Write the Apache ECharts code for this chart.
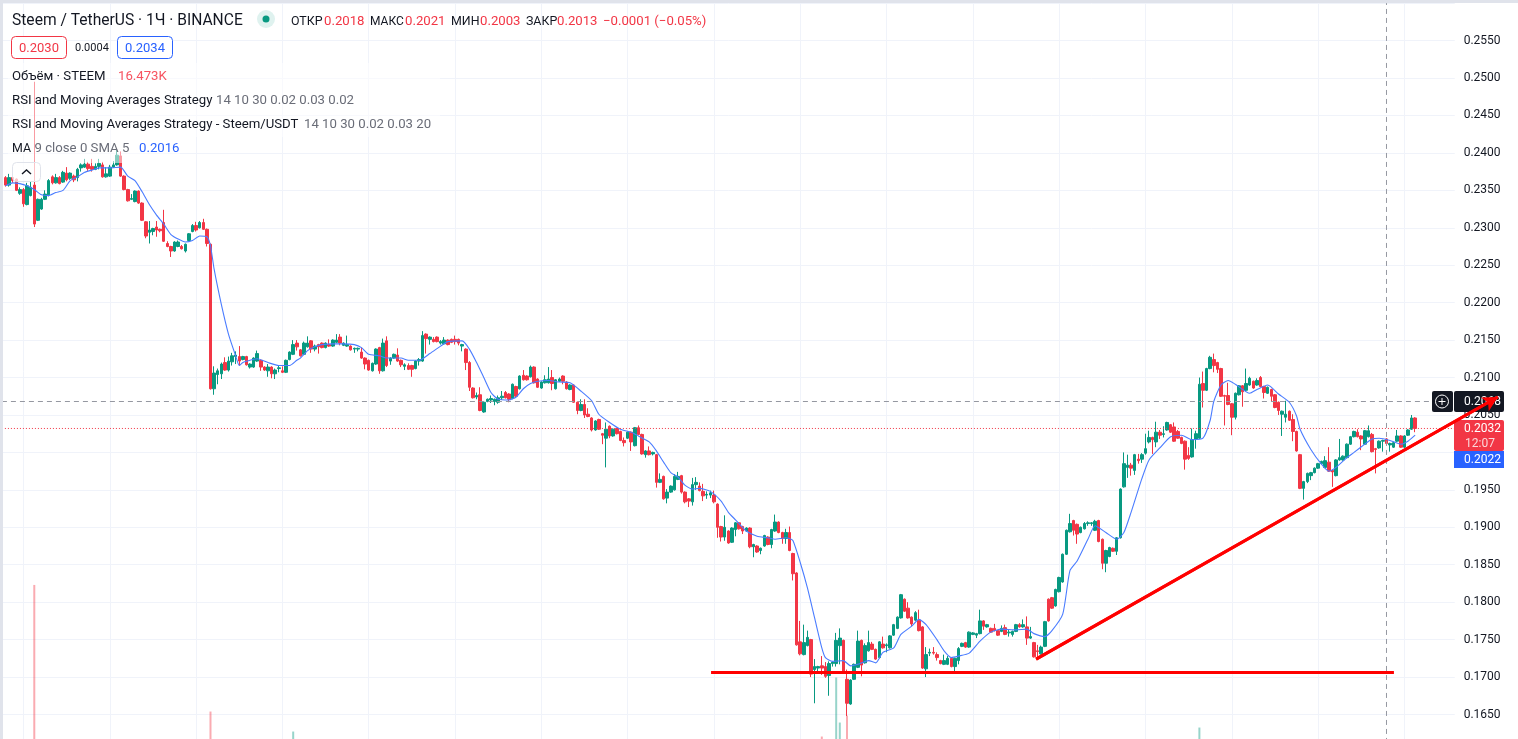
<!DOCTYPE html>
<html>
<head>
<meta charset="utf-8">
<title>Steem / TetherUS 1H</title>
<style>html,body{margin:0;padding:0;background:#fff;overflow:hidden}#chart{width:1518px;height:739px}</style>
<script src="https://cdn.jsdelivr.net/npm/echarts@6/dist/echarts.min.js"></script>
</head>
<body>
<div id="chart"></div>
<script>
// Hourly STEEM/USDT candles; prices are kept in 1/10000 USDT.
const opens = [
2367,2357,2367,2365,2346,2351,2331,2343,2357,2310,
2325,2338,2344,2368,2360,2367,2361,2373,2366,2369,
2367,2380,2381,2385,2382,2378,2382,2384,2368,2369,
2381,2384,2396,2369,2351,2338,2335,2349,2333,2308,
2294,2295,2301,2298,2307,2279,2275,2269,2275,2275,
2269,2283,2295,2303,2300,2307,2298,2278,2085,2104,
2105,2120,2110,2121,2128,2128,2124,2128,2114,2114,
2122,2123,2114,2109,2114,2105,2112,2109,2107,2124,
2131,2146,2137,2131,2141,2149,2138,2144,2146,2140,
2144,2142,2147,2154,2143,2142,2142,2138,2138,2134,
2126,2123,2109,2118,2140,2109,2149,2122,2126,2130,
2123,2115,2116,2116,2112,2122,2122,2158,2151,2151,
2154,2146,2145,2150,2151,2151,2151,2142,2138,2120,
2086,2074,2077,2054,2068,2070,2068,2067,2073,2080,
2078,2072,2088,2085,2103,2102,2101,2114,2098,2086,
2093,2093,2100,2085,2095,2102,2094,2084,2090,2067,
2056,2064,2051,2046,2030,2044,2025,2019,2035,2022,
2032,2028,2016,2019,2027,2009,2033,2024,1997,2002,
1998,1997,1960,1968,1939,1947,1950,1964,1969,1947,
1938,1934,1957,1955,1948,1943,1943,1943,1931,1901,
1887,1895,1880,1897,1906,1901,1895,1899,1874,1875,
1869,1875,1887,1877,1895,1907,1893,1885,1893,1865,
1839,1747,1730,1742,1750,1710,1712,1715,1714,1702,
1718,1718,1742,1749,1697,1664,1697,1713,1749,1719,
1735,1744,1737,1726,1744,1742,1739,1756,1765,1779,
1804,1792,1780,1776,1776,1767,1711,1732,1733,1730,
1722,1717,1717,1725,1714,1722,1741,1746,1740,1757,
1756,1758,1775,1767,1765,1765,1762,1761,1766,1759,
1757,1761,1770,1767,1767,1752,1746,1735,1731,1741,
1804,1806,1795,1814,1827,1864,1894,1909,1904,1893,
1898,1905,1905,1896,1909,1884,1852,1861,1872,1868,
1886,1954,1980,1983,1976,1991,1991,1999,2014,2020,
2014,2027,2024,2030,2037,2034,2028,2020,2015,1996,
1994,2018,2019,2092,2083,2112,2124,2120,2112,2076,
2076,2065,2047,2077,2089,2083,2090,2095,2090,2100,
2088,2079,2084,2077,2067,2051,2047,2055,2044,2028,
1997,1952,1961,1969,1973,1979,1985,1980,1987,1976,
1969,1990,1990,1993,2011,2021,2027,2022,2011,2021,
2024,2005,2006,2015,2018,2010,2007,2015,2022,2007,
2023,2031,2046];
const highs = [
2369,2372,2370,2366,2354,2353,2360,2362,2495,2339,
2340,2350,2365,2370,2372,2369,2376,2381,2374,2371,
2380,2386,2392,2388,2392,2386,2392,2388,2381,2384,
2389,2405,2402,2370,2352,2345,2350,2350,2334,2309,
2309,2300,2309,2299,2324,2282,2276,2282,2283,2277,
2279,2293,2305,2308,2309,2312,2299,2279,2115,2112,
2120,2127,2128,2133,2135,2142,2129,2129,2119,2127,
2136,2124,2115,2118,2115,2112,2116,2115,2124,2135,
2150,2150,2138,2148,2155,2150,2144,2145,2147,2147,
2151,2151,2158,2158,2147,2156,2143,2140,2140,2140,
2127,2124,2120,2139,2141,2152,2155,2127,2132,2139,
2124,2119,2119,2117,2123,2126,2162,2159,2155,2154,
2155,2150,2154,2151,2152,2156,2152,2145,2139,2122,
2087,2080,2087,2068,2072,2076,2072,2076,2082,2082,
2079,2092,2089,2103,2110,2103,2116,2115,2099,2095,
2103,2114,2110,2098,2100,2103,2095,2091,2091,2068,
2071,2071,2059,2047,2043,2045,2026,2040,2036,2032,
2033,2029,2020,2028,2028,2034,2036,2025,2003,2008,
2001,1998,1972,1969,1951,1956,1971,1974,1970,1948,
1939,1966,1967,1960,1958,1948,1949,1949,1932,1902,
1916,1896,1900,1907,1907,1902,1900,1900,1878,1876,
1873,1890,1888,1898,1917,1908,1894,1898,1901,1866,
1840,1775,1770,1762,1751,1724,1715,1728,1720,1721,
1721,1759,1765,1750,1710,1697,1718,1762,1750,1745,
1762,1747,1738,1748,1754,1745,1756,1771,1781,1811,
1805,1800,1781,1788,1790,1768,1740,1738,1740,1733,
1723,1730,1728,1726,1726,1740,1746,1747,1761,1760,
1759,1790,1776,1771,1766,1771,1763,1769,1770,1763,
1762,1771,1772,1777,1781,1767,1747,1743,1742,1775,
1805,1807,1818,1834,1865,1897,1918,1910,1905,1901,
1907,1908,1907,1910,1910,1885,1870,1874,1873,1887,
1952,2000,1997,1986,1998,1998,1999,2025,2029,2021,
2041,2030,2035,2041,2038,2040,2030,2021,2016,2007,
2032,2029,2100,2108,2113,2129,2132,2121,2113,2077,
2093,2066,2080,2090,2090,2112,2101,2096,2099,2102,
2089,2088,2085,2078,2068,2056,2069,2056,2051,2029,
1998,1962,1973,1974,1980,1986,1989,1995,2007,1977,
1991,2018,1996,2012,2022,2029,2031,2023,2030,2036,
2026,2006,2016,2017,2019,2013,2014,2030,2023,2023,
2031,2050,2047];
const lows = [
2355,2355,2360,2349,2344,2328,2330,2342,2301,2309,
2324,2337,2342,2358,2359,2358,2360,2362,2364,2361,
2362,2375,2380,2376,2375,2377,2378,2367,2367,2368,
2380,2383,2368,2350,2335,2337,2334,2332,2309,2286,
2279,2290,2288,2294,2281,2274,2261,2268,2274,2271,
2267,2282,2294,2295,2299,2297,2275,2084,2077,2091,
2098,2109,2108,2116,2118,2116,2123,2116,2112,2113,
2121,2109,2109,2101,2099,2098,2107,2106,2106,2123,
2130,2136,2128,2130,2140,2133,2135,2132,2139,2139,
2141,2141,2146,2143,2142,2141,2136,2133,2135,2125,
2111,2109,2108,2117,2105,2108,2114,2117,2125,2121,
2114,2110,2110,2101,2111,2116,2121,2132,2144,2147,
2147,2144,2144,2143,2146,2144,2143,2135,2110,2082,
2072,2071,2055,2053,2067,2066,2063,2065,2070,2072,
2067,2071,2073,2084,2096,2096,2100,2092,2086,2085,
2092,2092,2083,2084,2094,2091,2084,2083,2066,2051,
2055,2046,2047,2028,2029,2030,2011,1980,2019,2021,
2024,2015,2008,2018,2002,2008,2023,1997,1993,1996,
1996,1953,1959,1937,1932,1946,1949,1963,1945,1932,
1927,1929,1950,1948,1935,1938,1939,1932,1886,1881,
1882,1878,1879,1888,1897,1891,1894,1872,1860,1866,
1864,1874,1876,1872,1894,1892,1878,1878,1868,1829,
1742,1729,1729,1741,1700,1665,1707,1703,1699,1675,
1714,1714,1717,1707,1648,1663,1696,1712,1701,1718,
1734,1736,1723,1725,1738,1733,1738,1755,1764,1778,
1787,1778,1768,1775,1761,1711,1700,1728,1730,1722,
1717,1716,1716,1713,1706,1717,1740,1739,1739,1756,
1752,1757,1763,1766,1759,1761,1755,1760,1756,1754,
1754,1760,1766,1766,1743,1751,1726,1727,1730,1740,
1774,1791,1794,1813,1826,1863,1893,1889,1878,1892,
1897,1902,1902,1895,1880,1844,1840,1860,1867,1863,
1885,1953,1966,1969,1970,1985,1986,1997,2012,1998,
2007,2018,2020,2029,2026,2014,2018,2011,1977,1990,
1993,2005,2018,2060,2082,2111,2107,2106,2074,2036,
2063,2023,2044,2076,2061,2082,2089,2085,2089,2087,
2072,2078,2068,2059,2050,2022,2040,2042,2015,2001,
1951,1937,1959,1963,1972,1978,1984,1979,1974,1954,
1968,1989,1989,1992,2010,2020,2020,2003,2010,2020,
2000,1972,2005,2001,2011,2001,2006,2014,2006,2006,
2022,2030,2027];
const closes = [
2357,2367,2363,2350,2351,2332,2356,2354,2305,2338,
2338,2345,2363,2360,2367,2359,2374,2364,2373,2364,
2378,2384,2385,2379,2378,2382,2386,2368,2372,2381,
2384,2397,2369,2351,2336,2339,2349,2333,2310,2289,
2297,2299,2297,2296,2282,2275,2269,2281,2281,2272,
2278,2292,2303,2297,2307,2298,2279,2085,2106,2109,
2118,2110,2122,2129,2130,2122,2128,2117,2118,2126,
2132,2114,2110,2114,2105,2110,2113,2107,2123,2134,
2144,2141,2129,2146,2146,2138,2142,2141,2140,2146,
2142,2150,2150,2146,2146,2144,2137,2139,2139,2126,
2118,2110,2119,2138,2109,2146,2116,2126,2131,2122,
2117,2117,2111,2111,2122,2124,2156,2152,2154,2148,
2148,2148,2150,2144,2147,2148,2146,2144,2120,2087,
2073,2076,2056,2067,2071,2072,2071,2073,2075,2073,
2071,2091,2075,2102,2097,2097,2114,2093,2087,2094,
2097,2098,2092,2097,2098,2095,2085,2090,2067,2056,
2064,2050,2048,2030,2042,2031,2023,2031,2022,2031,
2025,2016,2013,2027,2014,2033,2024,1998,2002,1997,
2000,1960,1964,1938,1947,1955,1968,1968,1947,1934,
1935,1957,1960,1949,1942,1944,1946,1934,1900,1887,
1900,1879,1899,1906,1898,1895,1899,1874,1877,1867,
1872,1889,1877,1897,1907,1893,1885,1893,1869,1838,
1743,1731,1746,1753,1704,1714,1714,1712,1701,1718,
1720,1749,1752,1708,1665,1696,1717,1748,1716,1742,
1746,1737,1724,1747,1739,1743,1755,1770,1780,1810,
1788,1779,1771,1786,1762,1712,1730,1733,1732,1726,
1718,1722,1725,1714,1725,1738,1745,1740,1760,1759,
1758,1775,1768,1770,1760,1762,1756,1765,1757,1760,
1761,1770,1767,1770,1752,1754,1727,1734,1740,1774,
1775,1792,1817,1833,1864,1896,1905,1896,1891,1900,
1905,1906,1906,1908,1881,1852,1869,1873,1868,1886,
1951,1985,1983,1979,1997,1989,1997,2005,2020,2017,
2027,2023,2025,2040,2027,2015,2019,2012,1991,1992,
2017,2025,2091,2083,2112,2127,2116,2111,2075,2075,
2064,2047,2079,2089,2081,2092,2099,2086,2096,2088,
2080,2087,2075,2060,2056,2055,2051,2043,2028,2002,
1952,1961,1972,1973,1979,1985,1988,1989,1975,1974,
1990,1993,1995,2011,2021,2028,2021,2018,2029,2029,
2001,2004,2015,2016,2012,2012,2013,2022,2007,2022,
2030,2046,2032];

// Moving average readings: bar number and level.
const maBars = [1,3,5,7,9,11,13,15,17,19,21,23,25,27,30,33,35,37,39,41,43,45,47,49,51,53,55,57,58,59,61,63,65,66,67,69,71,74,77,80,82,83,85,87,89,92,95,98,100,102,105,107,111,113,116,119,122,124,128,130,132,134,136,138,141,143,145,147,149,152,155,158,161,164,166,169,172,175,177,180,182,184,186,188,190,192,194,197,200,202,204,207,210,213,215,218,219,220,222,224,226,228,229,231,234,236,238,241,243,245,248,250,253,255,257,260,262,264,266,269,272,275,278,282,285,287,290,292,295,297,299,302,304,307,310,312,314,317,319,322,325,328,331,334,336,337,339,341,343,347,349,352,355,358,360,361,364,367,369,371,374,376,379,381,383,386,389,391,393];
const maValues = [2356,2360,2359,2356,2351,2344,2343,2347,2350,2363,2368,2374,2377,2380,2380,2381,2369,2363,2348,2331,2317,2305,2291,2285,2281,2283,2289,2288,2276,2245,2198,2158,2129,2116,2120,2123,2125,2120,2116,2116,2123,2126,2136,2141,2144,2145,2145,2144,2140,2131,2129,2126,2126,2123,2123,2132,2142,2148,2149,2138,2120,2100,2080,2071,2070,2074,2085,2092,2095,2096,2094,2093,2082,2069,2051,2040,2031,2027,2022,2014,2002,1987,1973,1967,1956,1951,1952,1948,1935,1920,1910,1895,1888,1886,1884,1886,1885,1882,1853,1819,1779,1739,1726,1721,1722,1715,1717,1722,1719,1733,1739,1757,1768,1777,1770,1750,1735,1726,1728,1732,1748,1760,1764,1763,1764,1758,1754,1762,1784,1842,1855,1884,1902,1893,1884,1893,1920,1965,1990,2006,2021,2023,2017,2019,2043,2068,2090,2096,2091,2079,2084,2090,2078,2067,2049,2031,2004,1984,1975,1980,1993,2000,2011,2018,2019,2016,2011,2015,2023];

// Volume bars tall enough to rise above the bottom edge, in thousands of STEEM.
const volumeBars = [9,58,81,228,232,233,235,333];
const volumeValues = [1670,404,204,154,744,294,364,244];

// Drawn levels, in the same price units, with the bars they span.
const supportLevel = 1706;
const supportBars = [197.2,387.1];
const trendBars = [287.6,416];
const trendLevels = [1724,2074];
const lastPrice = 2032;
const crosshairPrice = 2068;
const crosshairBar = 385.03;

const priceTicks = {min:0.16,max:0.26,step:0.005};
const dayEvery = 24, dayOffset = 6;

const UP = '#089981', DOWN = '#F23645', BLUE = '#2962FF', INK = '#131722', GREY = '#6a6d78';
const FONT = 'Roboto, sans-serif';
const barPx = 3.596, plotLeft = 1.92, plotTop = 3.14, plotHeight = 748.8;
const lastCat = 404;

const categories = Array.from({length:lastCat+1},(_,i)=>i);
const candles = closes.map((c,k)=>[k+1,opens[k]/1e4,c/1e4,lows[k]/1e4,highs[k]/1e4]);
const maLine = maBars.map((b,k)=>[b,maValues[k]/1e4]);
const volumes = volumeBars.map((b,k)=>({
  value:[b,volumeValues[k]],
  itemStyle:{color:closes[b-1]>=opens[b-1]?'rgba(8,153,129,.42)':'rgba(242,54,69,.42)'}
}));

function ln(data,color,width,type,z){
  return {type:'line',xAxisIndex:1,yAxisIndex:1,data:data,symbol:'none',silent:true,animation:false,z:z,
    lineStyle:{color:color,width:width,type:type||'solid'}};
}
function label(x,y,text,fill,size,extra){
  return {type:'text',z:41,silent:true,style:Object.assign({x:x,y:y+1.5,text:text,fill:fill,font:(size||13.2)+'px '+FONT,align:'left',verticalAlign:'middle'},extra||{})};
}
function box(x,y,w,h,fill,r,stroke,z,opacity){
  return {type:'rect',z:z||40,silent:true,shape:{x:x,y:y,width:w,height:h,r:r||0},style:{fill:fill,stroke:stroke||null,lineWidth:stroke?1:0,opacity:opacity==null?1:opacity}};
}

const chart = echarts.init(document.getElementById('chart'),null,{renderer:'canvas'});
chart.setOption({
  animation:false,
  backgroundColor:'#ffffff',
  grid:[
    {left:plotLeft,top:plotTop,width:lastCat*barPx,height:plotHeight,outerBoundsMode:'none',containLabel:false},
    {left:plotLeft,top:plotTop,width:421.6*barPx,height:plotHeight,outerBoundsMode:'none',containLabel:false}
  ],
  xAxis:[
    {type:'category',data:categories,boundaryGap:false,gridIndex:0,
      axisLine:{show:false},axisTick:{show:false},axisLabel:{show:false},
      splitLine:{show:true,interval:(i)=>i%dayEvery===dayOffset,lineStyle:{color:'#f0f3fa',width:1}}},
    {type:'value',gridIndex:1,min:0,max:421.6,show:false,splitLine:{show:false}}
  ],
  yAxis:[
    {type:'value',position:'right',gridIndex:0,min:priceTicks.min,max:priceTicks.max,interval:priceTicks.step,scale:true,
      axisLine:{show:false},axisTick:{show:false},
      axisLabel:{color:INK,fontSize:12,fontFamily:FONT,margin:9,showMinLabel:false,showMaxLabel:false,formatter:v=>v.toFixed(4)},
      splitLine:{show:true,lineStyle:{color:'#f0f3fa',width:1}}},
    {type:'value',gridIndex:1,min:priceTicks.min,max:priceTicks.max,show:false,splitLine:{show:false}},
    {type:'value',gridIndex:0,min:0,max:7488,show:false,splitLine:{show:false}}
  ],
  series:[
    {type:'bar',name:'Volume',xAxisIndex:0,yAxisIndex:2,data:volumes,barWidth:2,silent:true,z:1},
    {type:'candlestick',name:'STEEMUSDT',xAxisIndex:0,yAxisIndex:0,data:candles,
      encode:{x:0,y:[1,2,3,4]},barWidth:3,silent:true,z:3,
      itemStyle:{color:UP,color0:DOWN,borderColor:UP,borderColor0:DOWN,borderWidth:1}},
    Object.assign(ln(maLine,'#4a7cff',1.1,'solid',4),{smooth:0.2,name:'MA 9'}),
    ln([[0,lastPrice/1e4],[403.8,lastPrice/1e4]],DOWN,1,[1,2],5),
    ln([[0,crosshairPrice/1e4],[397.1,crosshairPrice/1e4]],'#9598a1',1,[5,4],5),
    ln([[crosshairBar,priceTicks.min],[crosshairBar,priceTicks.max]],'#9598a1',1,[5,4],5),
    ln(supportBars.map(b=>[b,supportLevel/1e4]),'#FF0000',3,'solid',60),
    Object.assign(ln(trendBars.map((b,k)=>[b,trendLevels[k]/1e4]),'#FF0000',3,'solid',60),{
      markLine:{silent:true,animation:false,symbol:['none','arrow'],symbolSize:[12,15],z:60,label:{show:false},
        lineStyle:{color:'#FF0000',width:3,type:'solid'},
        data:[[{coord:[trendBars[0],trendLevels[0]/1e4]},{coord:[trendBars[1],trendLevels[1]/1e4]}]]}
    })
  ],
  graphic:{elements:[
    box(0,0,1518,3,'#e0e3eb',0,null,45),
    box(0,0,3,739,'#e0e3eb',0,null,45),
    // Translucent panel behind the indicator rows
    box(8,63,432,74,'#ffffff',0,null,38,0.5),
    box(8,137,172,26,'#ffffff',0,null,38,0.5),
    box(12.5,162.5,28,19,'rgba(255,255,255,.7)',4,'#e0e3eb',39),
    {type:'polyline',z:41,silent:true,shape:{points:[[22,174],[26.5,170],[31,174]]},style:{stroke:INK,lineWidth:1.4,fill:null}},

    label(12,20,'Steem / TetherUS · 1Ч · BINANCE',INK,15.6),
    {type:'circle',z:40,silent:true,shape:{cx:266,cy:19,r:9},style:{fill:'rgba(8,153,129,.13)'}},
    {type:'circle',z:41,silent:true,shape:{cx:266,cy:19,r:3.5},style:{fill:UP}},
    label(291,20,'ОТКР',INK,12.4),label(324,20,'0.2018',DOWN),
    label(370,20,'МАКС',INK,12),label(405,20,'0.2021',DOWN),
    label(451,20,'МИН',INK,12.4),label(480,20,'0.2003',DOWN),
    label(526,20,'ЗАКР',INK,12.4),label(557,20,'0.2013',DOWN),
    label(603,20,'−0.0001 (−0.05%)',DOWN),

    box(11.5,36.5,55,22,'#ffffff',4,DOWN),
    label(39,47.5,'0.2030',DOWN,13,{align:'center'}),
    label(75,46.5,'0.0004',INK,11),
    box(117.5,36.5,55,22,'#ffffff',4,BLUE),
    label(145,47.5,'0.2034',BLUE,13,{align:'center'}),

    label(12,75,'Объём · STEEM',INK),label(118,75,'16.473K','#f7525f'),
    label(12,99,'RSI and Moving Averages Strategy',INK),label(216,99,'14 10 30 0.02 0.03 0.02',GREY),
    label(12,123,'RSI and Moving Averages Strategy - Steem/USDT',INK),label(304,123,'14 10 30 0.02 0.03 20',GREY),
    label(12,147,'MA',INK,12.4),label(34.5,147,'9 close 0 SMA 5',GREY),label(139,147,'0.2016',BLUE),

    // Price tags on the right-hand scale
    box(1432,391,21,21,INK,2,null,50),
    {type:'circle',z:51,silent:true,shape:{cx:1442,cy:401.5,r:6.5},style:{fill:null,stroke:'#fff',lineWidth:1}},
    {type:'line',z:51,silent:true,shape:{x1:1438.5,y1:401.5,x2:1445.5,y2:401.5},style:{stroke:'#fff',lineWidth:1}},
    {type:'line',z:51,silent:true,shape:{x1:1442,y1:398,x2:1442,y2:405},style:{stroke:'#fff',lineWidth:1}},
    box(1454,391,50,21,INK,2,null,50),
    Object.assign(label(1464,400.5,'0.2068','#ffffff',12),{z:51}),
    box(1454,420,50,31,DOWN,2,null,50),
    Object.assign(label(1464,427,'0.2032','#ffffff',12),{z:51}),
    Object.assign(label(1465,442,'12:07','#fbd5d8',12),{z:51}),
    box(1454,451,50,17,BLUE,0,null,50),
    Object.assign(label(1464,458.5,'0.2022','#ffffff',12),{z:51})
  ]}
});
</script>
</body>
</html>
